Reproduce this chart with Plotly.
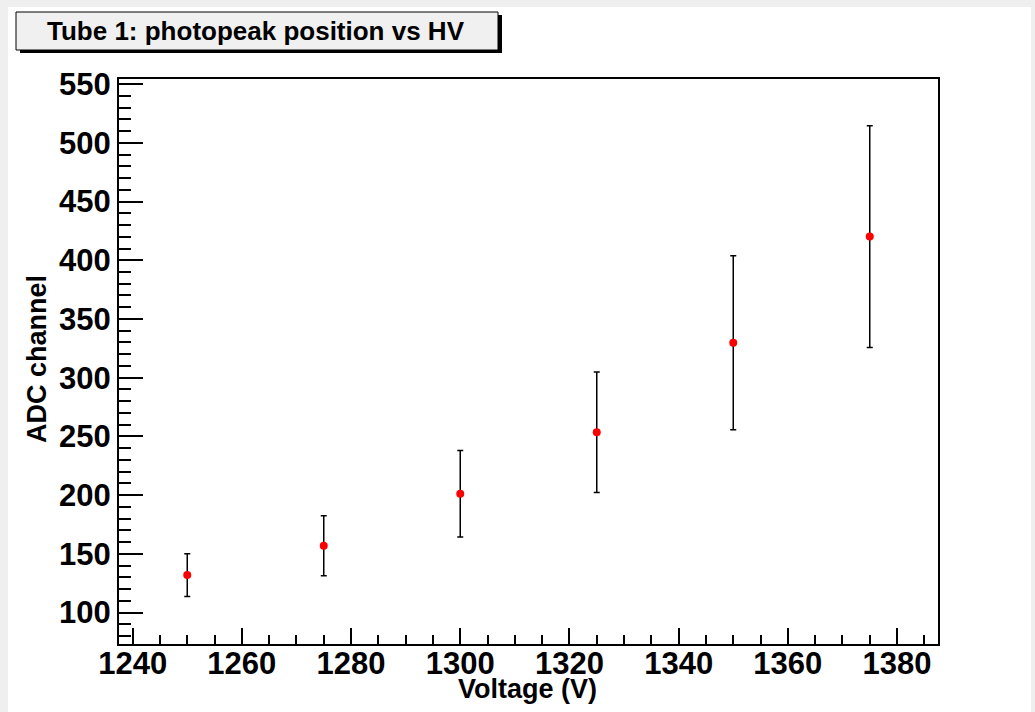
import plotly.graph_objects as go

# ---- data ----
voltage = [1250, 1275, 1300, 1325, 1350, 1375]
adc_channel = [132.0, 157.0, 201.2, 253.6, 329.7, 420.2]
adc_error = [18.2, 25.5, 36.8, 51.3, 74.1, 94.4]

x_ticks = [1240, 1260, 1280, 1300, 1320, 1340, 1360, 1380]
y_ticks = [100, 150, 200, 250, 300, 350, 400, 450, 500, 550]

title_text = "Tube 1: photopeak position vs HV"
x_title = "Voltage (V)"
y_title = "ADC channel"

# ---- layout geometry (pixels) ----
W, H = 1035, 712
L, R, T, B = 119, 938, 79, 644
PW, PH = R - L, B - T


def fx(px):
    return (px - L) / PW


def fy(py):
    return (B - py) / PH


FONT = "Liberation Sans, Arial, Helvetica, sans-serif"

fig = go.Figure()
fig.add_trace(go.Scatter(
    x=voltage, y=adc_channel,
    mode="markers",
    marker=dict(color="#ff0000", size=8, line=dict(width=0)),
    error_y=dict(type="data", array=adc_error, visible=True,
                 color="black", thickness=1.5, width=3),
    showlegend=False,
))

axis_common = dict(
    showgrid=False, zeroline=False,
    showline=True, linecolor="black", linewidth=2, mirror=True,
    ticks="inside", tickcolor="black", tickwidth=1.5,
    tickfont=dict(family=FONT, size=31, color="black", weight="bold"),
)

fig.update_xaxes(
    range=[1237.5, 1387.5],
    tickmode="array", tickvals=x_ticks, ticktext=[str(v) for v in x_ticks],
    ticklen=16,
    ticklabelstandoff=-9,
    minor=dict(ticks="inside", ticklen=9, dtick=5, tick0=1240,
               tickcolor="black", tickwidth=1.5, showgrid=False),
    **axis_common,
)
fig.update_yaxes(
    range=[73.3, 554.3],
    tickmode="array", tickvals=y_ticks, ticktext=[str(v) for v in y_ticks],
    ticklen=24,
    minor=dict(ticks="inside", ticklen=12, dtick=10, tick0=0,
               tickcolor="black", tickwidth=1.5, showgrid=False),
    **axis_common,
)

shapes = [
    # white canvas area over light gray page
    dict(type="rect", xref="paper", yref="paper", layer="below",
         x0=fx(8), x1=fx(1031), y0=fy(712), y1=fy(7),
         fillcolor="white", line=dict(width=0)),
    # title box shadow
    dict(type="rect", xref="paper", yref="paper",
         x0=fx(20), x1=fx(502), y0=fy(53), y1=fy(15),
         fillcolor="black", line=dict(width=0)),
    # title box
    dict(type="rect", xref="paper", yref="paper",
         x0=fx(16), x1=fx(498), y0=fy(50), y1=fy(12),
         fillcolor="#f0f0f0", line=dict(color="black", width=1)),
]

annotations = [
    dict(text=f"<b>{title_text}</b>", xref="paper", yref="paper",
         x=fx(256), y=fy(31), xanchor="center", yanchor="middle",
         showarrow=False, font=dict(family=FONT, size=26, color="black")),
    dict(text=f"<b>{x_title}</b>", xref="paper", yref="paper",
         x=fx(527), y=fy(689), xanchor="center", yanchor="middle",
         showarrow=False, font=dict(family=FONT, size=27, color="black")),
    dict(text=f"<b>{y_title}</b>", xref="paper", yref="paper",
         x=fx(37), y=fy(359), xanchor="center", yanchor="middle",
         textangle=-90,
         showarrow=False, font=dict(family=FONT, size=27, color="black")),
]

fig.update_layout(
    width=W, height=H,
    margin=dict(l=L, r=W - R, t=T, b=H - B, pad=0),
    paper_bgcolor="#efefef",
    plot_bgcolor="white",
    shapes=shapes,
    annotations=annotations,
)

fig.write_html("out.html")
